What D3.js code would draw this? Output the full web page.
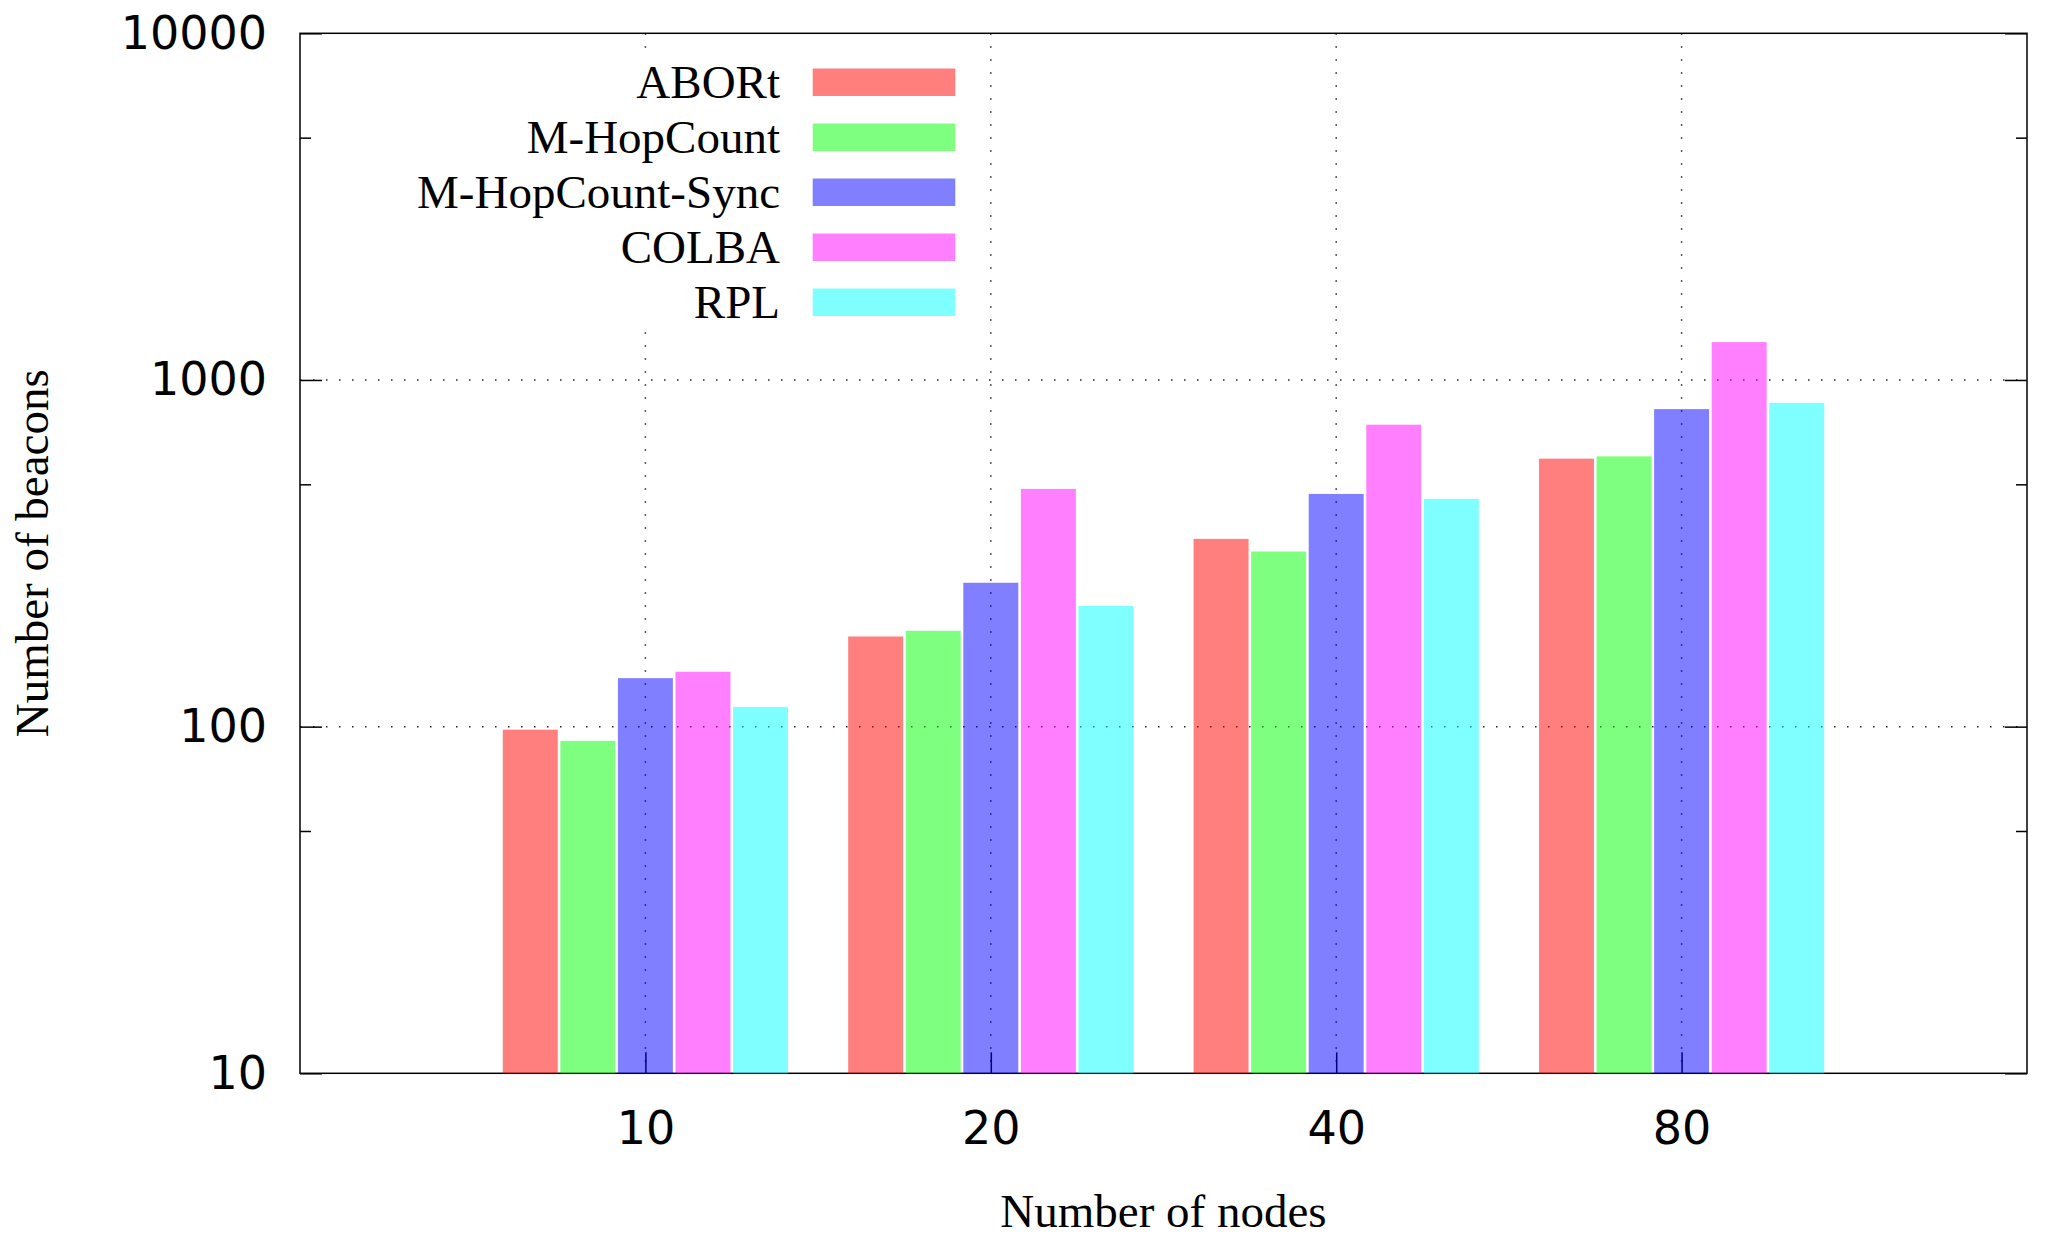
<!DOCTYPE html>
<html>
<head>
<meta charset="utf-8">
<script src="https://cdn.jsdelivr.net/npm/d3@7"></script>
<style>
  body { margin: 0; background: #fff; }
  svg { display: block; }
  .tick text { font-family: 'DejaVu Sans', sans-serif; font-size: 46px; fill: #000; }
  .domain { display: none; }
  .tick line { stroke: #000; stroke-width: 1.5; }
  .serif { font-family: 'Liberation Serif', 'Times New Roman', serif; font-size: 47px; fill: #000; }
</style>
</head>
<body>
<div id="chart"></div>
<script>
const nodes = ['10', '20', '40', '80']
const seriesNames = ['ABORt', 'M-HopCount', 'M-HopCount-Sync', 'COLBA', 'RPL']
const abort = [98, 182, 348, 593]
const mHopCount = [91, 189, 320, 602]
const mHopCountSync = [138, 260, 469, 824]
const colba = [144, 485, 743, 1286]
const rpl = [114, 223, 454, 859]
const yTicks = [10, 100, 1000, 10000]
const yMinorTicks = [50, 500, 5000]
const colors = ['#ff0000', '#00ff00', '#0000ff', '#ff00ff', '#00ffff']

const values = [abort, mHopCount, mHopCountSync, colba, rpl]

const width = 2051,
  height = 1248
const margin = {top: 33.3, right: 24, bottom: 174.7, left: 300}
const plotW = width - margin.left - margin.right,
  plotH = height - margin.top - margin.bottom

const svg = d3.select('#chart')
  .append('svg')
  .attr('width', width)
  .attr('height', height)

const g = svg.append('g')
  .attr('transform', `translate(${margin.left}, ${margin.top})`)

// gnuplot histogram: groups at 1..n, range 0..n+1
const x = d3.scaleLinear()
  .domain([0, nodes.length + 1])
  .range([0, plotW])
const y = d3.scaleLog()
  .domain([10, 10000])
  .range([plotH, 0])
const bw = (x(1) - x(0)) / (seriesNames.length + 1)

// grid
g.selectAll('.hgrid')
  .data(yTicks.slice(1, -1))
  .enter().append('line')
  .attr('x1', 0)
  .attr('x2', plotW)
  .attr('y1', d => y(d))
  .attr('y2', d => y(d))
  .attr('stroke', '#222')
  .attr('stroke-width', 1.5)
  .attr('stroke-dasharray', '1.5,11.5')
g.selectAll('.vgrid')
  .data(nodes)
  .enter().append('line')
  .attr('x1', (d, i) => x(i + 1))
  .attr('x2', (d, i) => x(i + 1))
  .attr('y1', 0)
  .attr('y2', plotH)
  .attr('stroke', '#222')
  .attr('stroke-width', 1.5)
  .attr('stroke-dasharray', '1.5,11.5')

// axes
g.append('g')
  .call(d3.axisLeft(y).tickValues(yTicks).tickFormat(d3.format('d'))
    .tickSizeInner(-22).tickSizeOuter(0).tickPadding(33))
g.append('g')
  .call(d3.axisLeft(y).tickValues(yMinorTicks).tickFormat('')
    .tickSizeInner(-11).tickSizeOuter(0))
g.append('g')
  .attr('transform', `translate(${plotW}, 0)`)
  .call(d3.axisRight(y).tickValues(yTicks).tickFormat('')
    .tickSizeInner(-22).tickSizeOuter(0))
g.append('g')
  .attr('transform', `translate(${plotW}, 0)`)
  .call(d3.axisRight(y).tickValues(yMinorTicks).tickFormat('')
    .tickSizeInner(-11).tickSizeOuter(0))
g.append('g')
  .attr('transform', `translate(0, ${plotH})`)
  .call(d3.axisBottom(x).tickValues(nodes.map((d, i) => i + 1))
    .tickFormat((d, i) => nodes[i])
    .tickSizeInner(-21).tickSizeOuter(0).tickPadding(38))

// frame
g.append('rect')
  .attr('width', plotW)
  .attr('height', plotH)
  .attr('fill', 'none')
  .attr('stroke', '#000')
  .attr('stroke-width', 1.5)

// bars (semi transparent, drawn over grid like gnuplot fs transparent solid 0.5)
const series = g.selectAll('.series')
  .data(values)
  .enter().append('g')
  .attr('class', 'series')
  .attr('fill', (d, j) => colors[j])
  .attr('fill-opacity', 0.5)
series.selectAll('rect')
  .data((d, j) => d.map((v, i) => ({v: v, i: i, j: j})))
  .enter().append('rect')
  .attr('x', d => x(d.i + 1) + (d.j - (seriesNames.length - 1) / 2) * bw - bw / 2 + 1.3)
  .attr('width', bw - 2.6)
  .attr('y', d => y(d.v))
  .attr('height', d => plotH - y(d.v))

// legend (opaque key box)
const legendY = i => 49 + i * 55
g.append('rect')
  .attr('x', 105)
  .attr('y', 24)
  .attr('width', 570)
  .attr('height', 271)
  .attr('fill', '#fff')
const key = g.selectAll('.key')
  .data(seriesNames)
  .enter().append('g')
  .attr('class', 'key')
key.append('text')
  .attr('class', 'serif')
  .attr('x', 480)
  .attr('y', (d, i) => legendY(i) + 15.5)
  .style('text-anchor', 'end')
  .text(d => d)
key.append('rect')
  .attr('x', 512.7)
  .attr('y', (d, i) => legendY(i) - 13.8)
  .attr('width', 142.6)
  .attr('height', 27.5)
  .attr('fill', (d, i) => colors[i])
  .attr('fill-opacity', 0.5)

// axis titles
svg.append('text')
  .attr('class', 'serif')
  .attr('x', margin.left + plotW / 2)
  .attr('y', 1226.7)
  .style('text-anchor', 'middle')
  .text('Number of nodes')
svg.append('text')
  .attr('class', 'serif')
  .attr('transform', `translate(48, ${margin.top + plotH / 2}) rotate(-90)`)
  .style('text-anchor', 'middle')
  .text('Number of beacons')
</script>
</body>
</html>
